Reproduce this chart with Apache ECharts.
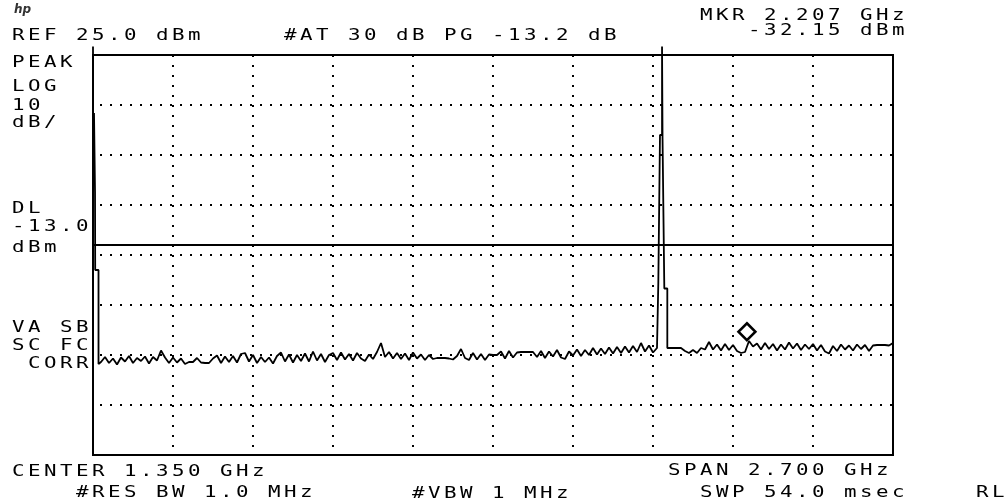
<!DOCTYPE html>
<html><head><meta charset="utf-8">
<script src="https://cdn.jsdelivr.net/npm/echarts@6/dist/echarts.min.js"></script>
<style>html,body{margin:0;padding:0;background:#fff}#c{width:1005px;height:504px}</style>
</head><body><div id="c"></div>
<script>
// ---- axis settings (GHz / dBm) ----
const startGHz = 0, stopGHz = 2.7, xDivGHz = 0.27;
const bottomDbm = -55, refDbm = 25, yDivDb = 10;
const dlDbm = -13.0;

// ---- measured trace: noise floor sampled every 13.5 MHz ----
const noiseStepGHz = 0.0135;
const noiseDbm = [
 -36.5,-36.8,-36.4,-35.4,-36.6,-35.7,-36.9,-35.5,-36.3,-35.2,
 -36.6,-35.6,-36.2,-35.3,-36.7,-35.4,-36.1,-34.1,-35.5,-36.6,
 -35.5,-36.5,-35.7,-36.8,-36.4,-36.4,-35.6,-36.5,-36.6,-36.6,
 -35.7,-35.1,-36.6,-35.3,-36.4,-35.2,-36.5,-34.8,-34.6,-36.3,
 -35.0,-36.6,-35.4,-36.4,-35.5,-36.7,-35.2,-34.5,-36.3,-34.9,
 -36.5,-35.0,-36.2,-34.7,-36.3,-34.3,-36.1,-34.8,-36.4,-35.0,
 -34.6,-36.0,-34.5,-35.9,-34.8,-36.1,-34.6,-35.7,-36.2,-34.9,
 -35.8,-34.4,-32.6,-35.4,-34.4,-35.7,-34.6,-35.8,-34.7,-36.0,
 -34.5,-35.7,-34.9,-36.0,-35.0,-35.8,-35.6,-35.6,-35.6,-35.7,
 -35.9,-35.2,-33.8,-35.6,-36.0,-34.6,-35.9,-34.8,-36.0,-34.9,
 -35.0,-35.0,-34.3,-35.7,-34.2,-35.5,-34.5,-34.4,-34.4,-34.4,
 -34.4,-35.4,-34.2,-35.6,-34.3,-35.3,-34.0,-35.5,-35.8,-34.3,
 -35.1,-33.9,-35.2,-34.0,-35.0,-33.6,-34.9,-33.7,-34.8,-33.5,
 -34.7,-33.4,-34.6,-33.3,-34.5,-33.2,-34.4,-32.6,-34.3,-33.1,
 -34.5,-33.6,-33.7,-33.7,-34.0,-33.6,-33.6,-33.6,-34.2,-34.6,
 -34.0,-34.6,-33.6,-33.9,-32.4,-33.9,-32.9,-34.1,-32.8,-34.0,
 -33.0,-34.2,-34.6,-34.4,-32.2,-33.3,-32.7,-33.9,-32.6,-33.8,
 -32.8,-34.1,-32.9,-33.9,-32.5,-33.7,-32.7,-34.0,-32.9,-33.8,
 -32.8,-34.1,-33.0,-34.3,-34.7,-33.2,-34.2,-32.9,-33.9,-33.1,
 -34.1,-32.9,-33.8,-33.0,-34.2,-33.1,-33.0,-33.0,-33.0,-33.1,
 -32.6
];
// LO feed-through at 0 Hz (display-limited above top)
const spike1Freq = [0, 0, 0.0034, 0.0034, 0.0068, 0.0068, 0.0074, 0.0074, 0.0186, 0.0186];
const spike1Dbm  = [26.7, -2.4, -2.4, 13.4, 13.4, -2.4, -2.4, -18.0, -18.0, -36.8];
// carrier near 1.92 GHz
const spike2Freq = [1.9079, 1.9079, 1.9136, 1.9136, 1.9205, 1.9205, 1.9222, 1.9222, 1.9282, 1.9282, 1.9383, 1.9383];
const spike2Dbm  = [-33.7, -20.7, -20.7, 9.0, 9.0, 26.7, 26.7, 8.3, 8.3, -21.7, -21.7, -33.6];

// marker
const markerGHz = 2.207, markerDbm = -32.15;

// ---- annotation texts ----
const topTexts = [
  ['MKR 2.207 GHz', 43, 16],
  ['-32.15 dBm', 46, 31],
  ['REF 25.0 dBm', 0, 36],
  ['#AT 30 dB PG -13.2 dB', 17, 36]
];
const sideTexts = [
  ['PEAK', 0, 63], ['LOG', 0, 86.5], ['10', 0, 106], ['dB/', 0, 123],
  ['DL', 0, 208.5], ['-13.0', 0, 227], ['dBm', 0, 248],
  ['VA SB', 0, 328], ['SC FC', 0, 345.5], [' CORR', 0, 364]
];
const bottomTexts = [
  ['CENTER 1.350 GHz', 0, 472], ['SPAN 2.700 GHz', 41, 471],
  ['#RES BW 1.0 MHz', 4, 493], ['#VBW 1 MHz', 25, 494], ['SWP 54.0 msec', 43, 493],
  ['RL', 60.25, 493]
];

// ---- build trace ----
const trace = [];
spike1Freq.forEach((f, i) => trace.push([f, spike1Dbm[i]]));
const s1End = spike1Freq[spike1Freq.length - 1];
const s2Start = spike2Freq[0], s2End = spike2Freq[spike2Freq.length - 1];
let s2Done = false;
noiseDbm.forEach((v, i) => {
  const f = startGHz + i * noiseStepGHz;
  if (f <= s1End) return;
  if (f >= s2Start && !s2Done) {
    spike2Freq.forEach((g, j) => trace.push([g, spike2Dbm[j]]));
    s2Done = true;
  }
  if (f >= s2Start && f <= s2End) return;
  trace.push([f, v]);
});

// ---- text as character grid ----
const PITCH = 16, COL0 = 12;
const FONT = '16px "DejaVu Sans Mono"';
const graphics = [];
function addRow(str, col, yc) {
  for (let i = 0; i < str.length; i++) {
    const ch = str[i];
    if (ch === ' ') continue;
    graphics.push({
      type: 'text', x: COL0 + (col + i) * PITCH, y: yc, scaleX: 1.3, silent: true,
      style: { text: ch, font: FONT, fill: '#000', textVerticalAlign: 'middle', verticalAlign: 'middle', textAlign: 'left' }
    });
  }
}
[...topTexts, ...sideTexts, ...bottomTexts].forEach(r => addRow(r[0], r[1], r[2]));
graphics.push({
  type: 'text', x: 14, y: 10, silent: true,
  style: { text: 'hp', font: 'italic bold 12px "DejaVu Sans"', fill: '#333', textVerticalAlign: 'middle', verticalAlign: 'middle' }
});

const chart = echarts.init(document.getElementById('c'), null, { renderer: 'canvas' });
chart.setOption({
  animation: false,
  backgroundColor: '#fff',
  grid: { left: 93, right: 112, top: 55, bottom: 49, show: true, borderColor: '#000', borderWidth: 2, backgroundColor: 'transparent' },
  xAxis: {
    type: 'value', min: startGHz, max: stopGHz, interval: xDivGHz,
    axisLine: { show: false }, axisTick: { show: false }, axisLabel: { show: false },
    splitLine: { show: true, lineStyle: { color: '#000', width: 2, type: [2, 8], dashOffset: 0 } }
  },
  yAxis: {
    type: 'value', min: bottomDbm, max: refDbm, interval: yDivDb,
    axisLine: { show: false }, axisTick: { show: false }, axisLabel: { show: false },
    splitLine: { show: true, lineStyle: { color: '#000', width: 2, type: [2, 8], dashOffset: 3 } }
  },
  series: [{
    type: 'line', data: trace, symbol: 'none', clip: false, silent: true,
    lineStyle: { color: '#000', width: 1.8 },
    markLine: {
      silent: true, symbol: 'none', label: { show: false },
      lineStyle: { color: '#000', width: 2, type: 'solid' },
      data: [{ yAxis: dlDbm }]
    },
    markPoint: {
      silent: true, symbol: 'diamond', symbolSize: [17, 17], symbolOffset: [0, -9],
      itemStyle: { color: '#fff', borderColor: '#000', borderWidth: 2.5 },
      label: { show: false },
      data: [{ coord: [markerGHz, markerDbm] }]
    }
  }],
  graphic: { elements: graphics }
});
</script></body></html>
